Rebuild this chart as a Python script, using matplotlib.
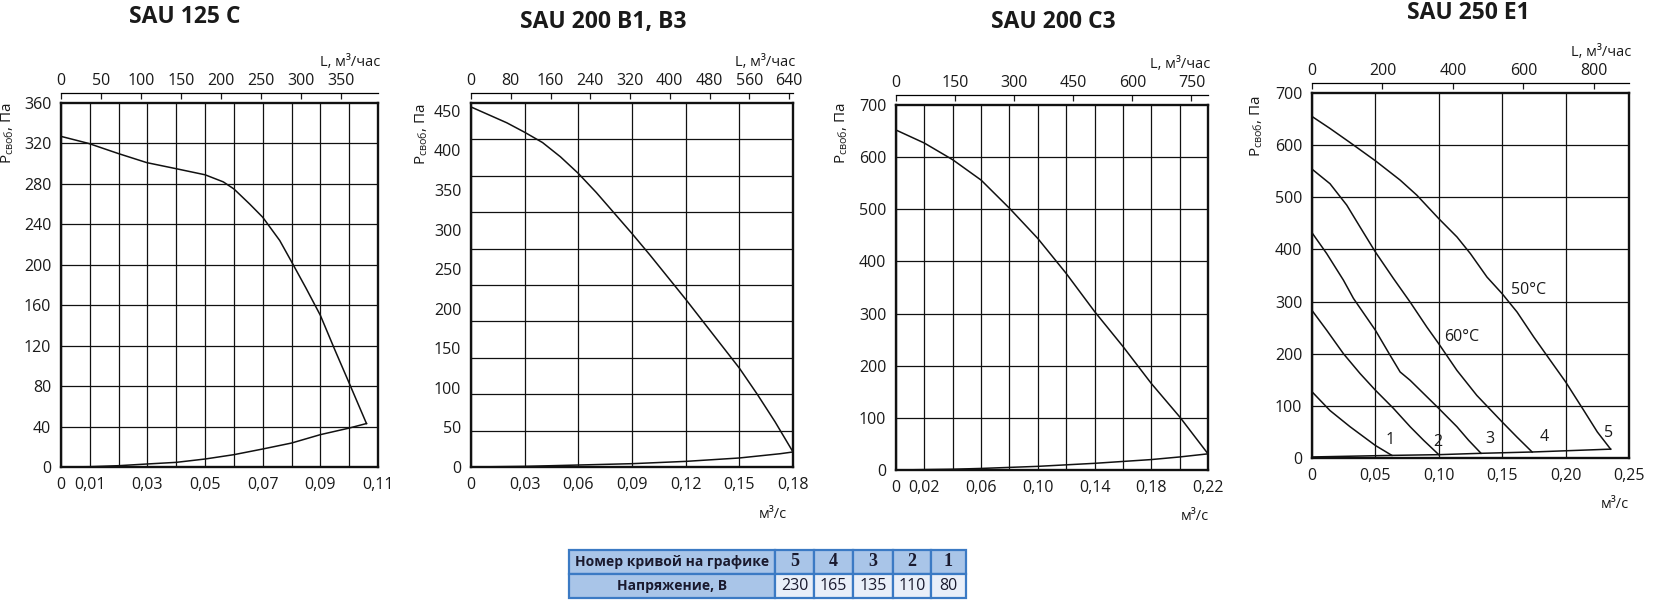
import matplotlib
matplotlib.use('Agg')
import matplotlib.pyplot as plt

plt.rcParams['font.family'] = ['Open Sans', 'DejaVu Sans']
plt.rcParams['mathtext.fontset'] = 'custom'
plt.rcParams['mathtext.rm'] = 'Open Sans'

W, H = 1653, 610

# ---- SAU 125 C
q1_fan = [0, 0.0096, 0.0199, 0.0298, 0.040, 0.050, 0.0563, 0.060, 0.0655, 0.070,
          0.0759, 0.080, 0.085, 0.090, 0.095, 0.100, 0.106]
p1_fan = [327, 320, 310, 301, 295, 289, 282, 275, 260, 247, 224, 203, 177, 150, 116, 83, 43]
q1_sys = [0, 0.01, 0.02, 0.03, 0.04, 0.05, 0.06, 0.07, 0.08, 0.09, 0.10, 0.106]
p1_sys = [0, 0.3, 1.3, 3, 4.6, 7.9, 12.2, 17.8, 23.7, 32, 38.5, 43]

# ---- SAU 200 B1, B3
q2_fan = [0, 0.01, 0.02, 0.03, 0.04, 0.05, 0.06, 0.07, 0.08, 0.09, 0.10, 0.11,
          0.12, 0.13, 0.14, 0.15, 0.16, 0.17, 0.18]
p2_fan = [455, 445, 435, 423, 410, 392, 371, 347, 321, 295, 268, 240, 212, 183,
          154, 125, 92, 57, 19]
q2_sys = [0, 0.03, 0.06, 0.09, 0.12, 0.15, 0.1729, 0.180]
p2_sys = [0, 0.8, 2.5, 4.2, 7.1, 11.4, 16.8, 19]

# ---- SAU 200 C3
q3_fan = [0, 0.02, 0.04, 0.06, 0.08, 0.10, 0.12, 0.14, 0.16, 0.18, 0.20, 0.22]
p3_fan = [652, 627, 595, 556, 502, 444, 377, 304, 237, 166, 102, 31]
q3_sys = [0, 0.04, 0.06, 0.08, 0.10, 0.14, 0.18, 0.20, 0.22]
p3_sys = [0, 1.5, 3, 5, 7, 12.8, 20, 25, 31]

# ---- SAU 250 E1 (curves 1..5)
q4_c1 = [0, 0.0142, 0.030, 0.050, 0.063]
p4_c1 = [127, 91, 60, 24, 5]
q4_c2 = [0, 0.0116, 0.0248, 0.0379, 0.050, 0.0643, 0.0774, 0.088, 0.100]
p4_c2 = [283, 245, 200, 162, 130, 95, 60, 34, 6.4]
q4_c3 = [0, 0.0116, 0.0248, 0.0327, 0.050, 0.0616, 0.0695, 0.0774, 0.100,
         0.1143, 0.1235, 0.1333]
p4_c3 = [432, 392, 341, 306, 245, 197, 165, 149, 95, 60, 34, 9]
q4_c4 = [0, 0.0142, 0.0274, 0.0379, 0.050, 0.0643, 0.0774, 0.0906, 0.100, 0.1143,
         0.130, 0.150, 0.1617, 0.1736]
p4_c4 = [554, 526, 485, 443, 395, 344, 299, 251, 219, 168, 120, 69, 40, 11.5]
q4_c5 = [0, 0.0142, 0.030, 0.050, 0.0695, 0.0827, 0.100, 0.1143, 0.1249, 0.138,
         0.150, 0.1617, 0.1749, 0.188, 0.200, 0.2144, 0.225, 0.2355]
p4_c5 = [655, 632, 605, 570, 533, 504, 459, 424, 392, 347, 315, 280, 232, 187,
         146, 91, 50, 17]
q4_sys = [0, 0.063, 0.100, 0.1333, 0.1736, 0.2355]
p4_sys = [2, 5, 6.4, 9, 11.5, 17]
curve_labels = ['1', '2', '3', '4', '5']
curve_label_q = [0.0616, 0.099, 0.140, 0.1828, 0.2336]
curve_label_p = [34, 31, 37, 40, 47]
temp_labels = ['50°C', '60°C']
temp_label_q = [0.171, 0.1183]
temp_label_p = [322, 232]

# ---- table
row_names = ['Номер кривой на графике', 'Напряжение, В']
curve_nums = ['5', '4', '3', '2', '1']
voltages = ['230', '165', '135', '110', '80']


def fmt(v):
    if abs(v) < 1e-9:
        return '0'
    return ('%.2f' % v).replace('.', ',')


def make_panel(box, xmax, xgrid, xlabels, ymax, ylabels, ygrid, ltick, title,
               title_xy, ylab_xy, show_unit=None):
    l, t, r, b = box
    ax = fig.add_axes([l / W, 1 - b / H, (r - l) / W, (b - t) / H])
    ax.set_xlim(0, xmax)
    ax.set_ylim(0, ymax)
    ax.set_xticks(xgrid)
    ax.set_xticklabels([fmt(v) if any(abs(v - u) < 1e-9 for u in xlabels) else ''
                        for v in xgrid])
    ax.set_yticks(ylabels)
    ax.set_yticklabels(['%d' % v for v in ylabels])
    ax.tick_params(length=0, labelsize=11.5, colors='#1a1a1a')
    ax.tick_params(axis='x', pad=7)
    ax.tick_params(axis='y', pad=7)
    ax.grid(True, axis='x', color='#111111', lw=0.9)
    for v in ygrid:
        ax.axhline(v, color='#111111', lw=0.9, zorder=0.5)
    for s in ax.spines.values():
        s.set_linewidth(1.7)
        s.set_color('#111111')

    sec = ax.secondary_xaxis('top', functions=(lambda q: q * 3600, lambda L: L / 3600))
    sec.set_xticks(ltick)
    sec.set_xticklabels(['%d' % v for v in ltick])
    sec.spines['top'].set_position(('outward', 7.2))
    sec.spines['top'].set_linewidth(0.9)
    sec.tick_params(direction='in', length=4, width=0.9, pad=3, labelsize=11.5,
                    colors='#1a1a1a')

    fig.text((r + 2) / W, 1 - (t - 40) / H, 'L, м³/час', ha='right', va='center',
             fontsize=10.5, color='#1a1a1a')
    fig.text(title_xy[0] / W, 1 - title_xy[1] / H, title, ha='center', va='center',
             fontsize=16.5, fontweight='bold', color='#1a1a1a')
    fig.text(ylab_xy[0] / W, 1 - ylab_xy[1] / H, r'$\mathregular{P_{своб}}$, Па',
             rotation=90, ha='center', va='top', fontsize=11, color='#1a1a1a')
    if show_unit is not None:
        fig.text(show_unit[0] / W, 1 - show_unit[1] / H, 'м³/с', ha='center',
                 va='center', fontsize=10.5, color='#1a1a1a')
    return ax


fig = plt.figure(figsize=(W / 100, H / 100), dpi=100)
lc = '#111111'
lw = 1.1

ax1 = make_panel((61, 103, 378, 467), 0.11, [i / 100 for i in range(12)],
                 [0, 0.01, 0.03, 0.05, 0.07, 0.09, 0.11], 360, range(0, 361, 40),
                 range(40, 360, 40), range(0, 351, 50), 'SAU 125 C', (185, 17), (8, 102))
ax1.plot(q1_fan, p1_fan, color=lc, lw=lw)
ax1.plot(q1_sys, p1_sys, color=lc, lw=lw)

# grid of this panel is drawn in 10 equal bands, labels every 50 Pa
ax2 = make_panel((471, 103, 793, 467), 0.18, [i * 0.03 for i in range(7)],
                 [i * 0.03 for i in range(7)], 460, range(0, 451, 50),
                 [460 * i / 10 for i in range(1, 10)], range(0, 641, 80),
                 'SAU 200 B1, B3', (603, 22), (422, 103), show_unit=(773, 515))
ax2.plot(q2_fan, p2_fan, color=lc, lw=lw)
ax2.plot(q2_sys, p2_sys, color=lc, lw=lw)

ax3 = make_panel((896, 105, 1208, 470), 0.22, [i * 0.02 for i in range(12)],
                 [0, 0.02, 0.06, 0.10, 0.14, 0.18, 0.22], 700, range(0, 701, 100),
                 range(100, 700, 100), range(0, 751, 150), 'SAU 200 C3', (1053, 22),
                 (842, 102), show_unit=(1195, 517))
ax3.plot(q3_fan, p3_fan, color=lc, lw=lw)
ax3.plot(q3_sys, p3_sys, color=lc, lw=lw)

ax4 = make_panel((1312, 93, 1629, 458), 0.25, [i * 0.05 for i in range(6)],
                 [i * 0.05 for i in range(6)], 700, range(0, 701, 100),
                 range(100, 700, 100), range(0, 801, 200), 'SAU 250 E1', (1468, 13),
                 (1257, 95), show_unit=(1615, 505))
for qq, pp in [(q4_c1, p4_c1), (q4_c2, p4_c2), (q4_c3, p4_c3), (q4_c4, p4_c4),
               (q4_c5, p4_c5), (q4_sys, p4_sys)]:
    ax4.plot(qq, pp, color=lc, lw=lw)
for lab, qx, py in zip(curve_labels, curve_label_q, curve_label_p):
    ax4.text(qx, py, lab, ha='center', va='center', fontsize=11.5, color='#1a1a1a')
for lab, qx, py in zip(temp_labels, temp_label_q, temp_label_p):
    ax4.text(qx, py, lab, ha='center', va='center', fontsize=11.5, color='#1a1a1a')

# table
tl, tt, tr, tb = 569, 550, 966, 598
tax = fig.add_axes([tl / W, 1 - tb / H, (tr - tl) / W, (tb - tt) / H])
tax.axis('off')
widths = [206, 39, 39, 40, 38, 35]
tot = sum(widths)
tbl = tax.table(cellText=[[row_names[0]] + curve_nums, [row_names[1]] + voltages],
                bbox=[0, 0, 1, 1], colWidths=[w / tot for w in widths], cellLoc='center')
tbl.auto_set_font_size(False)
for (rr, cc), cell in tbl.get_celld().items():
    cell.set_edgecolor('#3b7ac4')
    cell.set_linewidth(1.6)
    txt = cell.get_text()
    txt.set_color('#1a1a2e')
    if rr == 0 or cc == 0:
        cell.set_facecolor('#a9c5e8')
    else:
        cell.set_facecolor('#e9eff9')
    if cc == 0:
        txt.set_fontsize(10)
        txt.set_fontweight('bold')
    elif rr == 0:
        txt.set_fontfamily(['Liberation Serif'])
        txt.set_fontsize(13)
        txt.set_fontweight('bold')
    else:
        txt.set_fontsize(11.5)

fig.savefig('out.png', dpi=100)
